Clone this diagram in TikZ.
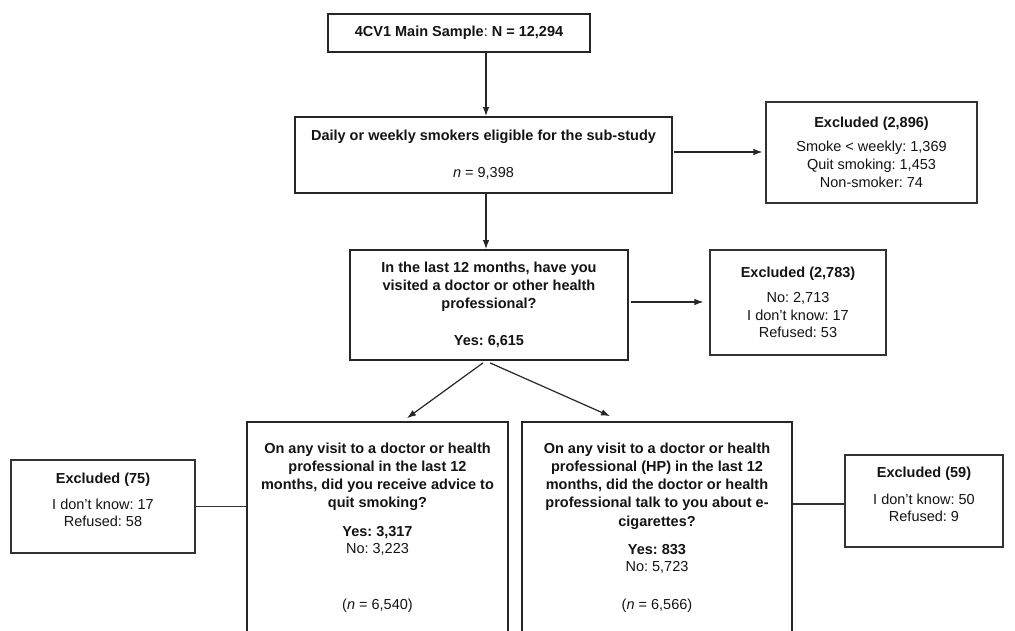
\documentclass[tikz,border=0pt]{standalone}
\usepackage{fontspec}
\setmainfont{Liberation Sans}
\usetikzlibrary{arrows.meta,calc}
\frenchspacing
\begin{document}
\begin{tikzpicture}[x=1pt,y=-1pt,
  font=\fontsize{14.5}{18.2}\selectfont\frenchspacing,
  mainbox/.style={draw=black!85, line width=1.8pt, align=center, inner sep=0pt, text=black!92},
  exbox/.style={draw=black!80, line width=1.1pt, align=center, inner sep=0pt, text=black!92},
  arr/.style={draw=black!85, line width=1.2pt, -{Latex[length=9pt,width=6.5pt]}},
  link/.style={draw=black!80, line width=1.1pt}]
\useasboundingbox (0,0) rectangle (1015,631);
\fill[white] (0,0) rectangle (1015,631);
\clip (0,0) rectangle (1015,631);

\node[mainbox, minimum width=262, minimum height=38] (b1) at (459,33)
  {\textbf{4CV1 Main Sample}: \textbf{N = 12,294}};

\node[mainbox, minimum width=377, minimum height=76] (b2) at (483.5,155)
  {\textbf{Daily or weekly smokers eligible for the sub-study}\\[18.8pt] \textit{n} = 9,398};

\node[exbox, minimum width=211, minimum height=101] (e1) at (871.5,152.5)
  {\textbf{Excluded (2,896)}\\[6pt] Smoke < weekly: 1,369\\ Quit smoking: 1,453\\ Non-smoker: 74};

\node[mainbox, minimum width=278, minimum height=110] (b3) at (489,305)
  {\textbf{In the last 12 months, have you}\\ \textbf{visited a doctor or other health}\\ \textbf{professional?}\\[18.8pt] \textbf{Yes: 6,615}};

\node[exbox, minimum width=176, minimum height=105] (e2) at (798,302.5)
  {\textbf{Excluded (2,783)}\\[7pt] No: 2,713\\ I don’t know: 17\\[-1pt] Refused: 53};

\node[mainbox, minimum width=261, minimum height=211] (b4) at (377.5,527.5)
  {\textbf{On any visit to a doctor or health}\\ \textbf{professional in the last 12}\\ \textbf{months, did you receive advice to}\\ \textbf{quit smoking?}\\[10.8pt] \textbf{Yes: 3,317}\\[-1.5pt] No: 3,223\\[37.8pt] (\textit{n} = 6,540)};

\node[mainbox, minimum width=270, minimum height=211] (b5) at (657,527.5)
  {\textbf{On any visit to a doctor or health}\\ \textbf{professional (HP) in the last 12}\\ \textbf{months, did the doctor or health}\\ \textbf{professional talk to you about e-}\\ \textbf{cigarettes?}\\[9.8pt] \textbf{Yes: 833}\\[-1.2pt] No: 5,723\\[19.8pt] (\textit{n} = 6,566)};

\node[exbox, minimum width=184, minimum height=93, text depth=14.5pt] (e3) at (103,506.5)
  {\textbf{Excluded (75)}\\[7.8pt] I don’t know: 17\\[-1.2pt] Refused: 58};

\node[exbox, minimum width=158, minimum height=92, text depth=14.5pt] (e4) at (924,501)
  {\textbf{Excluded (59)}\\[8.8pt] I don’t know: 50\\[-1.2pt] Refused: 9};

\coordinate (spine) at (486,0);
\draw[arr] (b1.south -| spine) -- (b2.north -| spine);
\draw[arr] (b2.south -| spine) -- (b3.north -| spine);
\draw[arr] ($(b2.east)+(1,-3)$) -- ($(e1.west |- b2.east)+(-3,-3)$);
\draw[arr] ($(b3.east)+(2,-3)$) -- ($(e2.west |- b3.east)+(-6,-3)$);
\draw[arr] ($(b3.south)+(-6,2)$) -- ($(b4.north)+(29.5,-3)$);
\draw[arr] ($(b3.south)+(1,2)$) -- ($(b5.north)+(-47,-5)$);
\draw[link] (e3.east) -- (e3.east -| b4.west);
\draw[link] ($(b5.east |- e4.west)+(0,3)$) -- ($(e4.west)+(0,3)$);
\end{tikzpicture}
\end{document}
